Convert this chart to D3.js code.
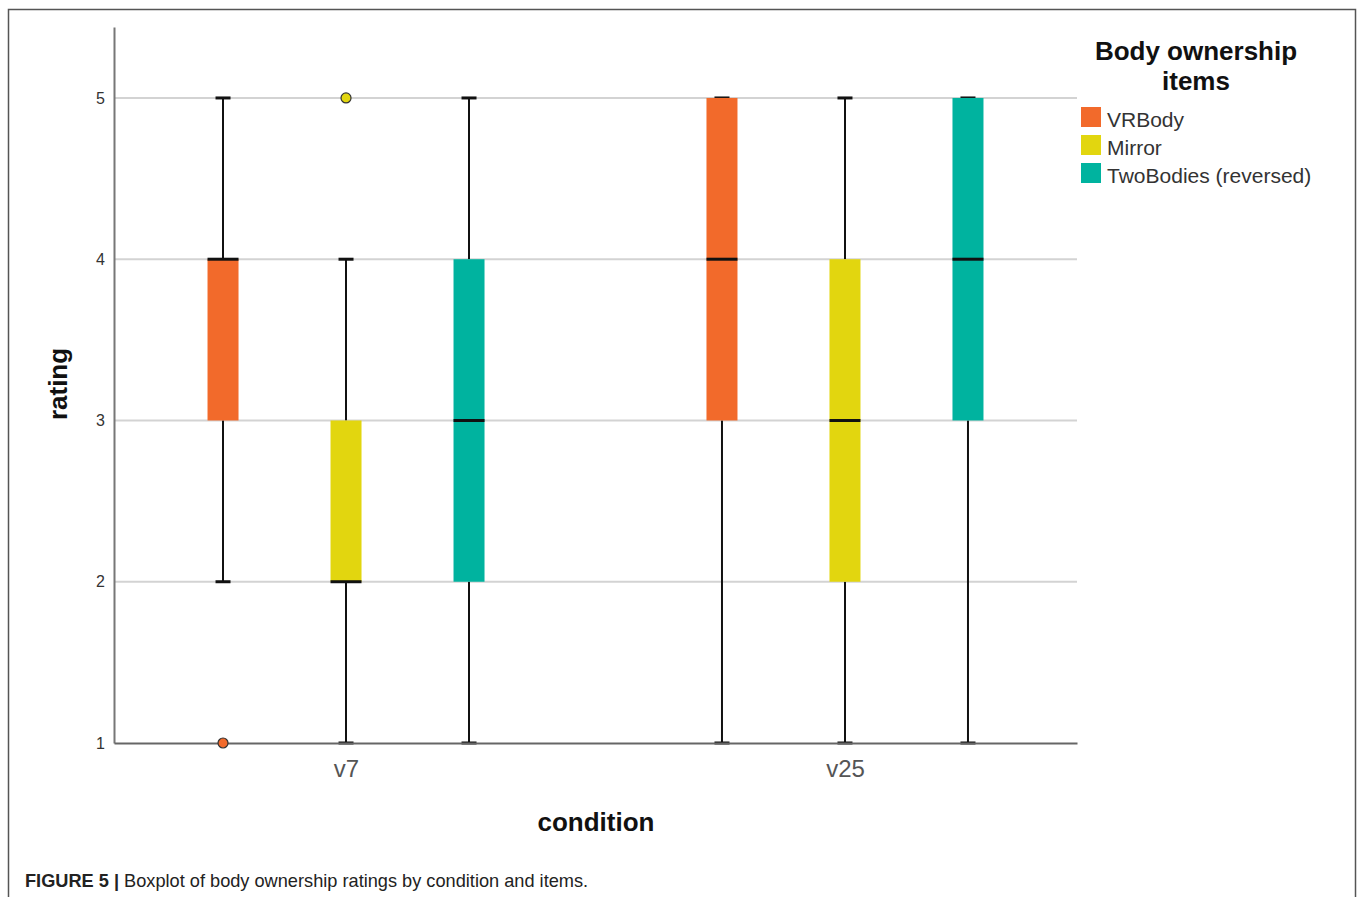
<!DOCTYPE html>
<html>
<head>
<meta charset="utf-8">
<script src="https://cdn.jsdelivr.net/npm/d3@7"></script>
<style>
  html, body { margin: 0; padding: 0; background: #fff; }
  svg { display: block; font-family: "Liberation Sans", Arial, Helvetica, sans-serif; }
</style>
</head>
<body>
<svg id="chart" width="1358" height="897"></svg>
<script>
// ---- data ----
const conditions = ["v7", "v25"];
const items = ["VRBody", "Mirror", "TwoBodies (reversed)"];
const itemColors = ["#f26a2b", "#e2d60f", "#00b39f"];
const yTicks = [1, 2, 3, 4, 5];
// per condition, per item: [whiskerLow, q1, median, q3, whiskerHigh]
const v7Stats = [[2, 3, 4, 4, 5], [1, 2, 2, 3, 4], [1, 2, 3, 4, 5]];
const v25Stats = [[1, 3, 4, 5, 5], [1, 2, 3, 4, 5], [1, 3, 4, 5, 5]];
const v7Outliers = [[1], [5], []];
const v25Outliers = [[], [], []];
const legendTitle = ["Body ownership", "items"];
const xTitle = "condition";
const yTitle = "rating";
const captionBold = "FIGURE 5 | ";
const captionText = "Boxplot of body ownership ratings by condition and items.";

const statsByCond = { v7: v7Stats, v25: v25Stats };
const outByCond = { v7: v7Outliers, v25: v25Outliers };

// ---- layout ----
const svg = d3.select("#chart");
const plotL = 114, plotR = 1077, plotB = 743, plotT = 27;
const yMax = 5.44;

svg.append("rect").attr("x", 8.5).attr("y", 9.5).attr("width", 1347).attr("height", 920)
  .attr("fill", "none").attr("stroke", "#555").attr("stroke-width", 1.5);

const y = d3.scaleLinear().domain([1, yMax]).range([plotB, plotT]);
const x = d3.scalePoint().domain(conditions).range([plotL, plotR]).padding(0.465);
const xi = d3.scalePoint().domain(items).range([-123, 123]);
const color = d3.scaleOrdinal().domain(items).range(itemColors);
const boxW = 31, capW = 15;

// gridlines
svg.append("g").selectAll("line").data(yTicks.filter(d => d > 1)).join("line")
  .attr("x1", plotL).attr("x2", plotR)
  .attr("y1", d => y(d)).attr("y2", d => y(d))
  .attr("stroke", "#d3d3d3").attr("stroke-width", 2);

// boxes
const groups = [];
conditions.forEach(c => items.forEach((it, i) => {
  const s = statsByCond[c][i];
  groups.push({ c, it, i, lo: s[0], q1: s[1], med: s[2], q3: s[3], hi: s[4], out: outByCond[c][i] });
}));

const g = svg.append("g");
groups.forEach(d => {
  const cx = x(d.c) + xi(d.it);
  g.append("line").attr("x1", cx).attr("x2", cx).attr("y1", y(d.q3)).attr("y2", y(d.hi))
    .attr("stroke", "#111").attr("stroke-width", 2);
  g.append("line").attr("x1", cx).attr("x2", cx).attr("y1", y(d.q1)).attr("y2", y(d.lo))
    .attr("stroke", "#111").attr("stroke-width", 2);
  [d.lo, d.hi].forEach(v => {
    g.append("line").attr("x1", cx - capW / 2).attr("x2", cx + capW / 2)
      .attr("y1", y(v)).attr("y2", y(v)).attr("stroke", "#111").attr("stroke-width", 3);
  });
  g.append("rect").attr("x", cx - boxW / 2).attr("width", boxW)
    .attr("y", y(d.q3)).attr("height", y(d.q1) - y(d.q3))
    .attr("fill", color(d.it));
  g.append("line").attr("x1", cx - boxW / 2).attr("x2", cx + boxW / 2)
    .attr("y1", y(d.med)).attr("y2", y(d.med)).attr("stroke", "#111").attr("stroke-width", 3);
});

// axes
const yAxis = d3.axisLeft(y).tickValues(yTicks).tickSize(0).tickPadding(9).tickFormat(d3.format("d"));
const ya = svg.append("g").attr("transform", `translate(${plotL},0)`).call(yAxis);
ya.select(".domain").attr("stroke", "#777").attr("stroke-width", 2);
ya.selectAll("text").attr("font-size", 16).attr("fill", "#333")
  .attr("font-family", "'Liberation Sans', Arial, sans-serif");

const xAxis = d3.axisBottom(x).tickSize(0).tickPadding(17);
const xa = svg.append("g").attr("transform", `translate(0,${plotB})`).call(xAxis);
xa.select(".domain").attr("stroke", "#666").attr("stroke-width", 2);
xa.selectAll("text").attr("font-size", 24).attr("fill", "#555")
  .attr("font-family", "'Liberation Sans', Arial, sans-serif");

// outliers
groups.forEach(d => {
  const cx = x(d.c) + xi(d.it);
  d.out.forEach(v => {
    svg.append("circle").attr("cx", cx).attr("cy", y(v)).attr("r", 5)
      .attr("fill", color(d.it)).attr("stroke", "#333").attr("stroke-width", 1.2);
  });
});

// axis titles
svg.append("text").attr("x", 596).attr("y", 831).attr("text-anchor", "middle")
  .attr("font-size", 26).attr("font-weight", "bold").attr("fill", "#111").text(xTitle);
svg.append("text").attr("transform", "translate(67,384) rotate(-90)").attr("text-anchor", "middle")
  .attr("font-size", 26).attr("font-weight", "bold").attr("fill", "#111").text(yTitle);

// legend
const lg = svg.append("g");
legendTitle.forEach((t, i) => {
  lg.append("text").attr("x", 1196).attr("y", 60 + i * 30).attr("text-anchor", "middle")
    .attr("font-size", 26).attr("font-weight", "bold").attr("fill", "#111").text(t);
});
items.forEach((it, i) => {
  lg.append("rect").attr("x", 1081).attr("y", 107 + i * 28).attr("width", 20).attr("height", 20)
    .attr("fill", color(it));
  lg.append("text").attr("x", 1107).attr("y", 127 + i * 28).attr("font-size", 21)
    .attr("fill", "#333").text(it);
});

// caption
const cap = svg.append("text").attr("x", 25).attr("y", 887).attr("font-size", 18.2).attr("fill", "#222");
cap.append("tspan").attr("font-weight", "bold").text(captionBold);
cap.append("tspan").text(captionText);
</script>
</body>
</html>
